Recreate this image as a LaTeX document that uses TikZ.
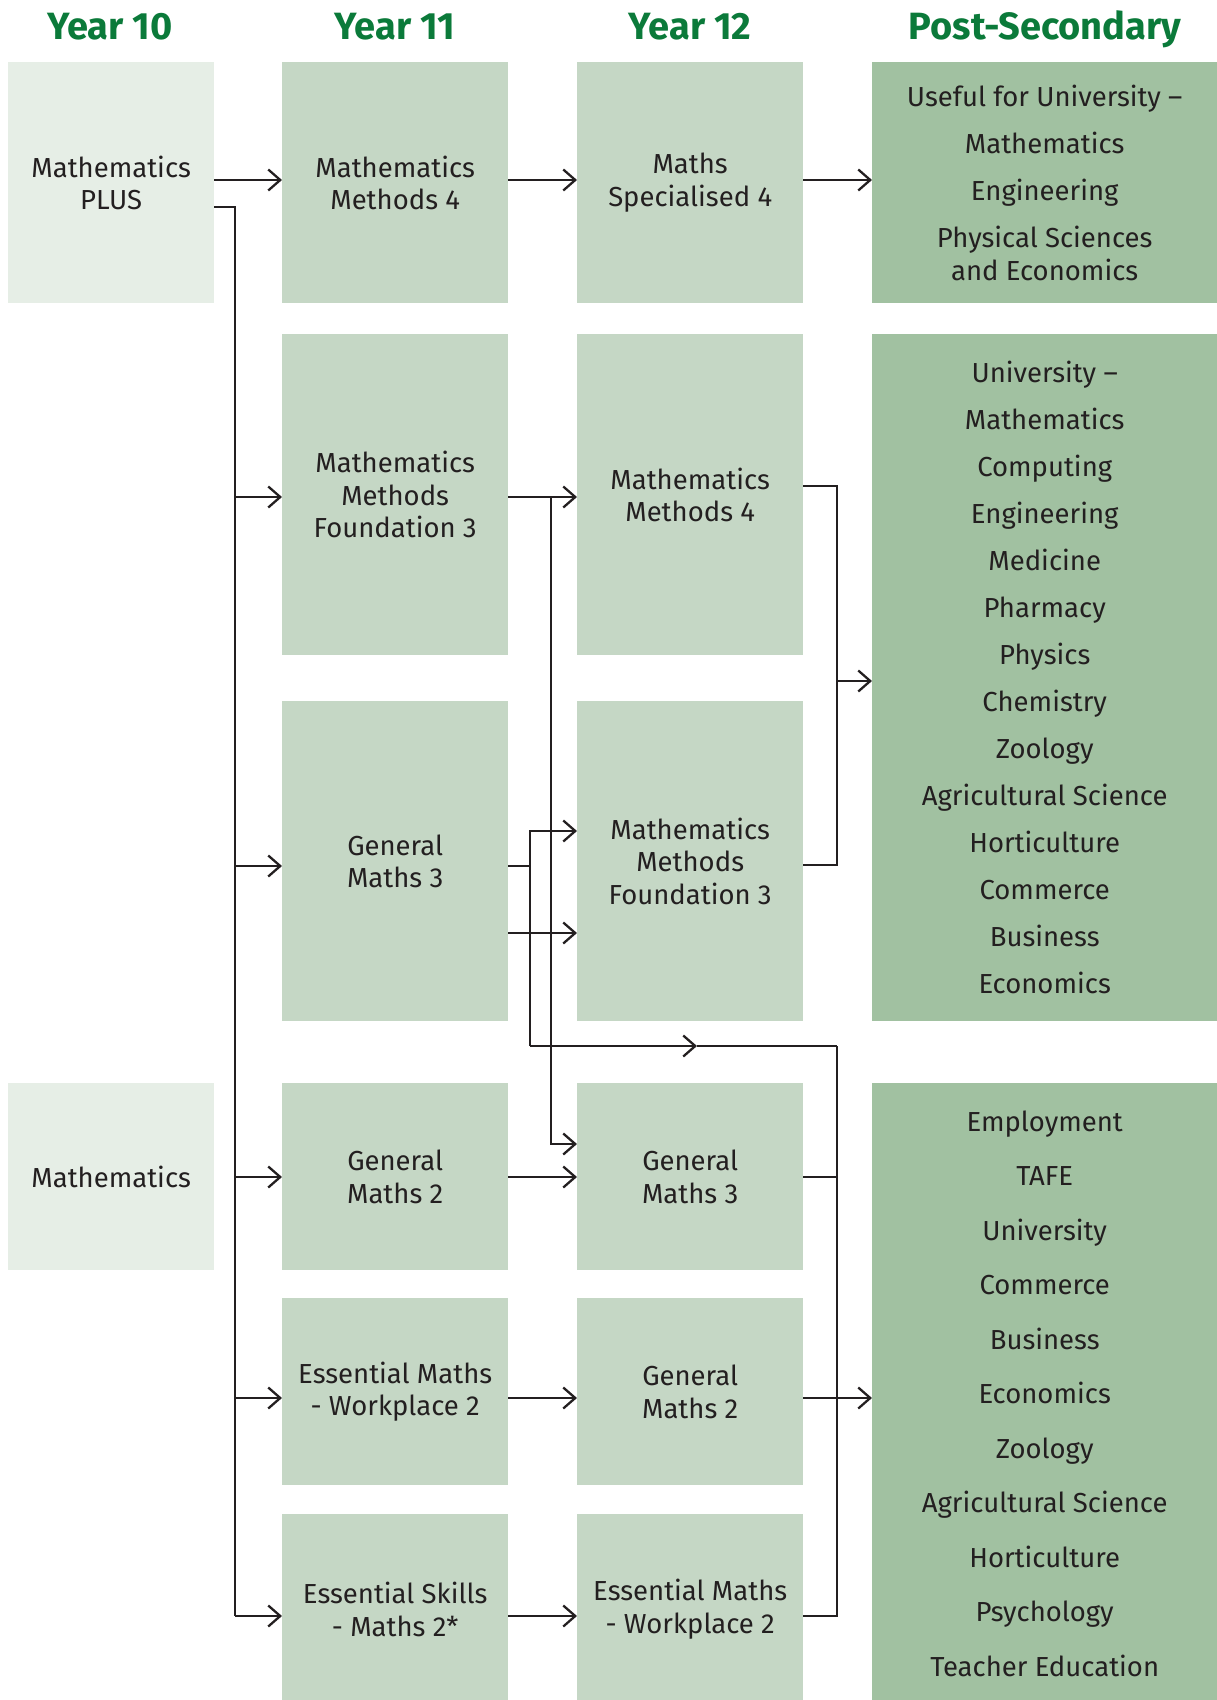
\documentclass[tikz,border=0pt]{standalone}
\usepackage{fontspec}
\setmainfont{Fira Sans}
\usepackage{xcolor}
\usetikzlibrary{arrows.meta}
\definecolor{headgreen}{HTML}{0B7A3A}
\definecolor{tenfill}{HTML}{E6EEE6}
\definecolor{yrfill}{HTML}{C5D7C5}
\definecolor{postfill}{HTML}{A1C1A1}
\definecolor{inkgrey}{HTML}{231F20}
\tikzset{
  boxnode/.style = {rectangle, inner sep=0pt, align=center, anchor=north west,
    text=inkgrey, font=\fontsize{27.5}{32.5}\selectfont},
  box_ten/.style = {boxnode, fill=tenfill, minimum width=206pt},% year 10
  box_yr/.style = {boxnode, fill=yrfill, minimum width=226pt},% year 11 / 12
  box_post/.style = {boxnode, fill=postfill, minimum width=345pt},% post-secondary
  yr_head/.style = {anchor=base, text=headgreen,
    font=\fontsize{38}{40}\selectfont\bfseries},
  link/.style = {draw=inkgrey, line width=2.3pt},
  flow/.style = {link, -{Straight Barb[length=12pt,width=21pt,line width=2.3pt]}}
}

\begin{document}
\begin{tikzpicture}[x=1pt,y=-1pt]
\useasboundingbox (0,0) rectangle (1217,1700);
\clip (0,0) rectangle (1217,1700);

% headings
\node [yr_head] (h10) at (110,39) {Year 10};
\node [yr_head] (h11) at (395,39) {Year 11};
\node [yr_head] (h12) at (690,39) {Year 12};
\node [yr_head] (hps) at (1045,39) {Post-Secondary};

% year 10
\node [box_ten, minimum height=241pt] (mplus) at (8,62) {Mathematics\\PLUS};
\node [box_ten, minimum height=187pt] (maths) at (8,1083) {Mathematics};

% year 11
\node [box_yr, minimum height=241pt] (mm4a) at (282,62) {Mathematics\\Methods 4};
\node [box_yr, minimum height=321pt] (mmf3a) at (282,334) {Mathematics\\Methods\\Foundation 3};
\node [box_yr, minimum height=320pt] (gm3a) at (282,701) {General\\Maths 3};
\node [box_yr, minimum height=187pt] (gm2a) at (282,1083) {General\\Maths 2};
\node [box_yr, minimum height=187pt] (emw2a) at (282,1298) {Essential Maths\\- Workplace 2};
\node [box_yr, minimum height=190pt] (esm2a) at (282,1514) {Essential Skills\\- Maths 2*};

% year 12
\node [box_yr, minimum height=241pt] (ms4) at (577,62) {Maths\\Specialised 4};
\node [box_yr, minimum height=321pt] (mm4b) at (577,334) {Mathematics\\Methods 4};
\node [box_yr, minimum height=320pt] (mmf3b) at (577,701) {Mathematics\\Methods\\Foundation 3};
\node [box_yr, minimum height=187pt] (gm3b) at (577,1083) {General\\Maths 3};
\node [box_yr, minimum height=187pt] (gm2b) at (577,1298) {General\\Maths 2};
\node [box_yr, minimum height=190pt] (emw2b) at (577,1514) {Essential Maths\\- Workplace 2};

% post-secondary
\node [box_post, minimum height=241pt] (useful) at (872,62)
  {Useful for University –\\[14.5pt]Mathematics\\[14.5pt]Engineering\\[14.5pt]Physical Sciences\\and Economics};
\node [box_post, minimum height=687pt] (unis) at (872,334)
  {University –\\[14.5pt]Mathematics\\[14.5pt]Computing\\[14.5pt]Engineering\\[14.5pt]Medicine\\[14.5pt]Pharmacy\\[14.5pt]Physics\\[14.5pt]Chemistry\\[14.5pt]Zoology\\[14.5pt]Agricultural Science\\[14.5pt]Horticulture\\[14.5pt]Commerce\\[14.5pt]Business\\[14.5pt]Economics};
\node [box_post, minimum height=621pt] (work) at (872,1083)
  {Employment\\[22pt]TAFE\\[22pt]University\\[22pt]Commerce\\[22pt]Business\\[22pt]Economics\\[22pt]Zoology\\[22pt]Agricultural Science\\[22pt]Horticulture\\[22pt]Psychology\\[22pt]Teacher Education};

% bus lines
\coordinate (busA) at (235,0);
\coordinate (busB) at (551,0);
\coordinate (busC) at (530,0);
\coordinate (busD) at (837,0);
\coordinate (midH) at (697,1046);

% top row
\draw [flow] (mplus.east |- 0,180) -- (mm4a.west |- 0,180);
\draw [flow] (mm4a.east |- 0,180) -- (ms4.west |- 0,180);
\draw [flow] (ms4.east |- 0,180) -- (useful.west |- 0,180);

% from Mathematics PLUS down the left
\draw [link] (mplus.east |- 0,207) -- (busA |- 0,207) -- (busA |- 0,1616);
\foreach \to/\y in {mmf3a/497, gm3a/866, gm2a/1177, emw2a/1398, esm2a/1616}
  \draw [flow] (busA |- 0,\y) -- (\to.west |- 0,\y);

% year 11 to year 12
\draw [flow] (mmf3a.east |- 0,497) -- (mm4b.west |- 0,497);
\draw [flow] (busB |- 0,497) -- (busB |- 0,1144) -- (gm3b.west |- 0,1144);
\draw [link] (gm3a.east |- 0,866) -- (busC |- 0,866);
\draw [flow] (busC |- 0,1046) -- (busC |- 0,831) -- (mmf3b.west |- 0,831);
\draw [flow] (gm3a.east |- 0,933) -- (mmf3b.west |- 0,933);
\draw [flow] (busC |- midH) -- (midH);
\draw [link] (midH) -- (busD |- midH);
\draw [flow] (gm2a.east |- 0,1177) -- (gm3b.west |- 0,1177);
\draw [flow] (emw2a.east |- 0,1398) -- (gm2b.west |- 0,1398);
\draw [flow] (esm2a.east |- 0,1616) -- (emw2b.west |- 0,1616);

% year 12 to post-secondary
\draw [link] (mm4b.east |- 0,486) -- (busD |- 0,486) -- (busD |- 0,865) -- (mmf3b.east |- 0,865);
\draw [flow] (busD |- 0,681) -- (unis.west |- 0,681);
\draw [link] (busD |- midH) -- (busD |- 0,1616) -- (emw2b.east |- 0,1616);
\draw [link] (gm3b.east |- 0,1177) -- (busD |- 0,1177);
\draw [flow] (gm2b.east |- 0,1398) -- (work.west |- 0,1398);
\end{tikzpicture}
\end{document}
